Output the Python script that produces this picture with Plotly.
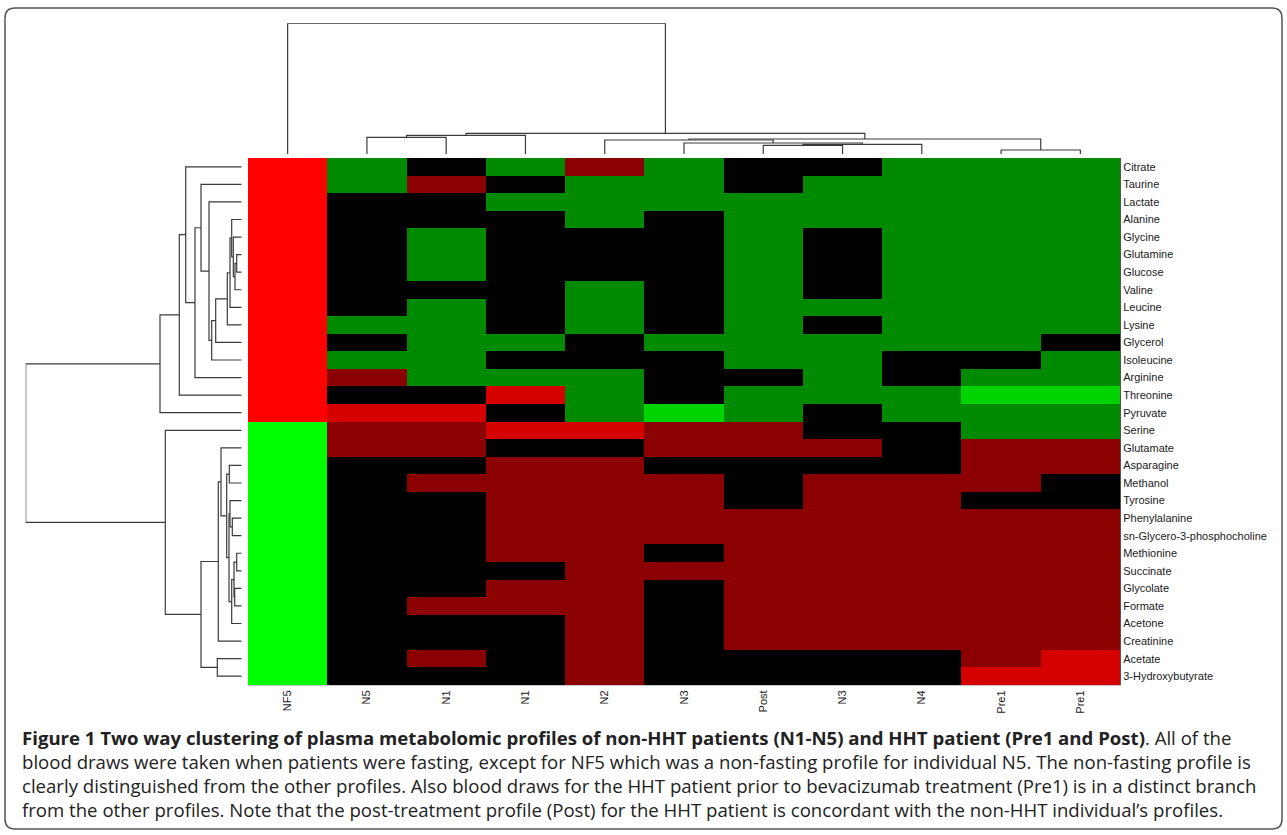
import plotly.graph_objects as go

W, H = 1287, 835

samples = ["NF5", "N5", "N1", "N1", "N2", "N3", "Post", "N3", "N4", "Pre1", "Pre1"]

metabolites = [
    "Citrate", "Taurine", "Lactate", "Alanine", "Glycine", "Glutamine", "Glucose",
    "Valine", "Leucine", "Lysine", "Glycerol", "Isoleucine", "Arginine", "Threonine",
    "Pyruvate", "Serine", "Glutamate", "Asparagine", "Methanol", "Tyrosine",
    "Phenylalanine", "sn-Glycero-3-phosphocholine", "Methionine", "Succinate",
    "Glycolate", "Formate", "Acetone", "Creatinine", "Acetate", "3-Hydroxybutyrate",
]

# -3 (strong green) ... 0 (black) ... +3 (strong red)
values = [
    [3, -1, 0, -1, 1, -1, 0, 0, -1, -1, -1],
    [3, -1, 1, 0, -1, -1, 0, -1, -1, -1, -1],
    [3, 0, 0, -1, -1, -1, -1, -1, -1, -1, -1],
    [3, 0, 0, 0, -1, 0, -1, -1, -1, -1, -1],
    [3, 0, -1, 0, 0, 0, -1, 0, -1, -1, -1],
    [3, 0, -1, 0, 0, 0, -1, 0, -1, -1, -1],
    [3, 0, -1, 0, 0, 0, -1, 0, -1, -1, -1],
    [3, 0, 0, 0, -1, 0, -1, 0, -1, -1, -1],
    [3, 0, -1, 0, -1, 0, -1, -1, -1, -1, -1],
    [3, -1, -1, 0, -1, 0, -1, 0, -1, -1, -1],
    [3, 0, -1, -1, 0, -1, -1, -1, -1, -1, 0],
    [3, -1, -1, 0, 0, 0, -1, -1, 0, 0, -1],
    [3, 1, -1, -1, -1, 0, 0, -1, 0, -1, -1],
    [3, 0, 0, 2, -1, 0, -1, -1, -1, -2, -2],
    [3, 2, 2, 0, -1, -2, -1, 0, -1, -1, -1],
    [-3, 1, 1, 2, 2, 1, 1, 0, 0, -1, -1],
    [-3, 1, 1, 0, 0, 1, 1, 1, 0, 1, 1],
    [-3, 0, 0, 1, 1, 0, 0, 0, 0, 1, 1],
    [-3, 0, 1, 1, 1, 1, 0, 1, 1, 1, 0],
    [-3, 0, 0, 1, 1, 1, 0, 1, 1, 0, 0],
    [-3, 0, 0, 1, 1, 1, 1, 1, 1, 1, 1],
    [-3, 0, 0, 1, 1, 1, 1, 1, 1, 1, 1],
    [-3, 0, 0, 1, 1, 0, 1, 1, 1, 1, 1],
    [-3, 0, 0, 0, 1, 1, 1, 1, 1, 1, 1],
    [-3, 0, 0, 1, 1, 0, 1, 1, 1, 1, 1],
    [-3, 0, 1, 1, 1, 0, 1, 1, 1, 1, 1],
    [-3, 0, 0, 0, 1, 0, 1, 1, 1, 1, 1],
    [-3, 0, 0, 0, 1, 0, 1, 1, 1, 1, 1],
    [-3, 0, 1, 0, 1, 0, 0, 0, 0, 1, 2],
    [-3, 0, 0, 0, 1, 0, 0, 0, 0, 2, 2],
]

# column clustering: (child a, child b, distance); leaves 0..10, new nodes from 11
col_merges = [
    (9, 10, 4.0),
    (6, 7, 8.7),
    (12, 8, 9.7),
    (5, 13, 11.0),
    (4, 14, 14.0),
    (15, 11, 15.0),
    (1, 2, 16.7),
    (17, 3, 18.7),
    (18, 16, 20.7),
    (0, 19, 130.7),
]

# row clustering: leaves 0..29, new nodes from 30
row_merges = [
    (5, 6, 5.0),
    (30, 7, 6.7),
    (4, 31, 8.4),
    (3, 32, 10.0),
    (33, 8, 11.7),
    (34, 9, 14.4),
    (35, 10, 26.0),
    (36, 11, 30.0),
    (2, 37, 32.7),
    (1, 38, 40.7),
    (39, 12, 46.7),
    (0, 40, 56.0),
    (41, 13, 62.4),
    (42, 14, 81.7),
    (17, 18, 12.4),
    (20, 21, 9.4),
    (19, 45, 11.7),
    (22, 23, 5.0),
    (24, 25, 7.0),
    (47, 48, 7.7),
    (49, 26, 10.0),
    (46, 50, 12.7),
    (44, 51, 15.0),
    (16, 52, 20.7),
    (53, 27, 23.4),
    (28, 29, 24.4),
    (54, 55, 40.7),
    (15, 56, 76.4),
    (43, 57, 216.0),
]

caption_lines = [
    "<b>Figure 1 Two way clustering of plasma metabolomic profiles of non-HHT patients (N1-N5) and HHT patient (Pre1 and Post)</b>. All of the",
    "blood draws were taken when patients were fasting, except for NF5 which was a non-fasting profile for individual N5. The non-fasting profile is",
    "clearly distinguished from the other profiles. Also blood draws for the HHT patient prior to bevacizumab treatment (Pre1) is in a distinct branch",
    "from the other profiles. Note that the post-treatment profile (Post) for the HHT patient is concordant with the non-HHT individual\u2019s profiles.",
]


def dendro(merges, n):
    pos = {i: float(i) for i in range(n)}
    hgt = {i: 0.0 for i in range(n)}
    p, h = [], []
    for k, (a, b, d) in enumerate(merges):
        p += [pos[a], pos[a], pos[b], pos[b], None]
        h += [hgt[a], d, d, hgt[b], None]
        pos[n + k] = (pos[a] + pos[b]) / 2
        hgt[n + k] = d
    return p, h


colors = ["#00FF00", "#00D400", "#008A00", "#000000", "#8B0000", "#D50000", "#FF0000"]
cscale = []
for i, c in enumerate(colors):
    cscale += [[i / 7, c], [(i + 1) / 7, c]]

fig = go.Figure()
fig.add_trace(go.Heatmap(
    z=values, x=list(range(len(samples))), y=list(range(len(metabolites))),
    colorscale=cscale, zmin=-3.5, zmax=3.5, showscale=False,
    xaxis="x", yaxis="y", hoverinfo="skip",
))

cp, ch = dendro(col_merges, len(samples))
fig.add_trace(go.Scatter(x=cp, y=ch, mode="lines", line=dict(color="#3a3a3a", width=1.2),
                         xaxis="x2", yaxis="y2", hoverinfo="skip", showlegend=False))
rp, rh = dendro(row_merges, len(metabolites))
fig.add_trace(go.Scatter(x=rh, y=rp, mode="lines", line=dict(color="#3a3a3a", width=1.2),
                         xaxis="x3", yaxis="y3", hoverinfo="skip", showlegend=False))

hx0, hx1 = 248 / W, 1120 / W
hy0, hy1 = 1 - 685 / H, 1 - 158 / H
nC, nR = len(samples), len(metabolites)
lab_font = dict(family="Liberation Sans, Arial, sans-serif", size=11, color="#1a1a1a")

fig.update_layout(
    width=W, height=H, margin=dict(l=0, r=0, t=0, b=0),
    paper_bgcolor="white", plot_bgcolor="white", showlegend=False,
    xaxis=dict(domain=[hx0, hx1], range=[-0.5, nC - 0.5], anchor="y",
               tickmode="array", tickvals=list(range(nC)), ticktext=samples,
               tickangle=-90, tickfont=lab_font, ticks="", showgrid=False, zeroline=False,
               showline=True, linecolor="#c8c8c8", linewidth=1, fixedrange=True),
    yaxis=dict(domain=[hy0, hy1], range=[nR - 0.5, -0.5], anchor="x", side="right",
               tickmode="array", tickvals=list(range(nR)), ticktext=metabolites,
               tickfont=lab_font, ticks="", showgrid=False, zeroline=False,
               showline=True, linecolor="#555555", linewidth=1, fixedrange=True),
    xaxis2=dict(domain=[hx0, hx1], range=[-0.5, nC - 0.5], anchor="y2",
                visible=False, fixedrange=True),
    yaxis2=dict(domain=[1 - 154 / H, 1 - 23.3 / H], range=[0, 130.7], anchor="x2",
                visible=False, fixedrange=True),
    xaxis3=dict(domain=[25.7 / W, 241.7 / W], range=[216, 0], anchor="y3",
                visible=False, fixedrange=True),
    yaxis3=dict(domain=[hy0, hy1], range=[nR - 0.5, -0.5], anchor="x3",
                visible=False, fixedrange=True),
)

# caption
cap_y = [737, 761, 785, 809]
for txt, yy in zip(caption_lines, cap_y):
    fig.add_annotation(text=txt, x=20 / W, y=1 - yy / H, xref="paper", yref="paper",
                       xanchor="left", yanchor="middle", showarrow=False, align="left",
                       font=dict(family="Open Sans, sans-serif", size=18.6, color="#222222"))

# rounded frame
x0, x1 = 5 / W, 1282 / W
y0, y1 = 1 - 829 / H, 1 - 8 / H
rx, ry = 10 / W, 10 / H
path = (f"M {x0+rx},{y1} L {x1-rx},{y1} Q {x1},{y1} {x1},{y1-ry} "
        f"L {x1},{y0+ry} Q {x1},{y0} {x1-rx},{y0} L {x0+rx},{y0} "
        f"Q {x0},{y0} {x0},{y0+ry} L {x0},{y1-ry} Q {x0},{y1} {x0+rx},{y1} Z")
fig.add_shape(type="path", path=path, xref="paper", yref="paper",
              line=dict(color="#555555", width=1.5))

fig.write_html("out.html", config={"displayModeBar": False},
               post_script="document.body.style.margin='0';")
